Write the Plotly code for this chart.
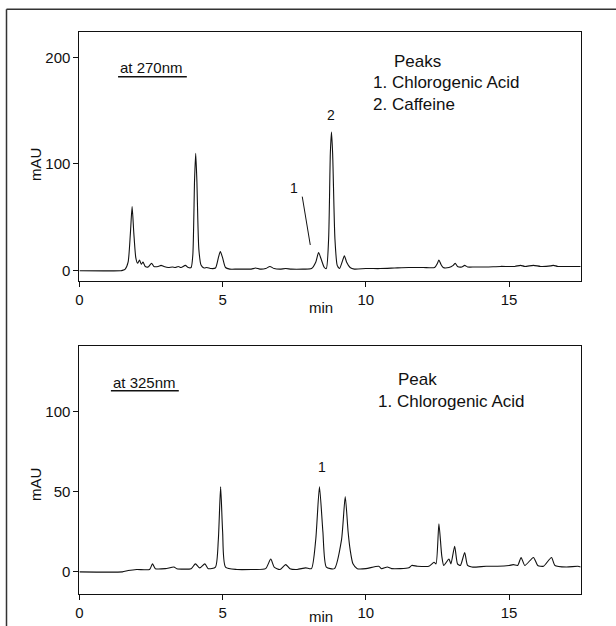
import plotly.graph_objects as go

# ---------------- data ----------------
t_270 = [0, 1.45, 1.5, 1.6, 1.7, 1.78, 1.84, 1.9, 1.97, 2.03, 2.1, 2.16, 2.22, 2.3, 2.4, 2.52, 2.6,
         2.75, 2.85, 2.95, 3.1, 3.25, 3.35, 3.45, 3.55, 3.7, 3.8, 3.9, 3.96, 4.02, 4.06, 4.1, 4.17,
         4.25, 4.35, 4.45, 4.6, 4.75, 4.85, 4.92, 5.0, 5.1, 5.25, 5.5, 5.8, 6.0, 6.15, 6.3, 6.5,
         6.65, 6.8, 7.0, 7.2, 7.4, 7.8, 8.1, 8.25, 8.35, 8.45, 8.55, 8.62, 8.7, 8.76, 8.8, 8.84,
         8.92, 9.0, 9.08, 9.17, 9.25, 9.33, 9.45, 9.6, 10.0, 10.5, 11.0, 11.5, 12.0, 12.4, 12.5,
         12.55, 12.62, 12.7, 12.9, 13.05, 13.12, 13.2, 13.35, 13.45, 13.55, 13.8, 14.2, 14.7,
         15.2, 15.4, 15.55, 15.85, 16.1, 16.45, 16.55, 16.7, 17.0, 17.5]
mau_270 = [0, 0, 0.3, 1.5, 8, 35, 60, 35, 12, 7, 10, 6, 8, 4, 3.5, 7, 4,
           4, 5, 4, 3, 3.5, 3, 4, 3, 5, 3, 3, 15, 85, 110, 85, 20,
           5, 2.5, 3, 2, 2.5, 12, 18, 12, 3, 1.5, 1.5, 1.5, 1.5, 2.5, 1.5, 2,
           4, 2, 1.5, 2, 1.5, 1.5, 2, 8, 17, 10, 3, 2, 30, 110, 130, 110,
           30, 5, 2, 8, 14, 8, 3, 1.5, 2, 2, 2.5, 3, 3, 3, 7,
           10, 6, 3, 3, 5, 7, 4, 3.5, 5, 3.5, 3.5, 3.5, 4,
           4, 5, 4, 5, 4, 4.5, 5, 4, 4, 4]

t_325 = [0, 1.5, 1.7, 2.0, 2.45, 2.55, 2.65, 3.0, 3.3, 3.4, 3.9, 4.05, 4.2, 4.38, 4.5, 4.75, 4.85,
         4.93, 5.0, 5.1, 5.5, 6.0, 6.5, 6.68, 6.8, 7.0, 7.2, 7.35, 7.6, 7.9, 8.1, 8.25, 8.38,
         8.5, 8.62, 8.9, 9.15, 9.28, 9.38, 9.45, 9.55, 9.7, 10.0, 10.45, 10.55, 10.75, 10.9,
         11.5, 11.6, 11.8, 12.2, 12.38, 12.45, 12.55, 12.65, 12.72, 12.9, 12.97, 13.1, 13.2,
         13.3, 13.45, 13.55, 13.7, 14.2, 14.6, 15.0, 15.15, 15.3, 15.42, 15.55, 15.85, 16.0,
         16.2, 16.48, 16.6, 17.0, 17.4, 17.5]
mau_325 = [0, 0, 0.8, 1.5, 1.5, 5, 2, 2, 3, 2, 2, 5, 2.5, 5, 2, 3, 20,
           53, 25, 3, 1.5, 1.5, 2, 8, 3, 1.5, 4.5, 2, 1.5, 2.5, 2, 20, 53,
           25, 3, 2, 20, 47, 25, 14, 5, 2, 2, 3.5, 2, 3, 2,
           2.5, 4, 3.5, 3.5, 6, 5, 30, 10, 4, 8, 5, 16, 5,
           4, 12, 4, 3, 3.5, 3.5, 4, 4.5, 4, 9, 4, 9, 4,
           3.5, 9, 4, 3, 3.5, 3]

x_ticks = [0, 5, 10, 15]
y_ticks_270 = [0, 100, 200]
y_ticks_325 = [0, 50, 100]

W, H = 616, 626
FONT = "Liberation Sans, Arial, sans-serif"


def px(x):
    return x / W


def py(y):
    return 1 - y / H


fig = go.Figure()
fig.add_trace(go.Scatter(x=t_270, y=mau_270, mode="lines", xaxis="x", yaxis="y",
                         line=dict(color="#111111", width=1.1, shape="spline", smoothing=0.6),
                         showlegend=False, hoverinfo="skip"))
fig.add_trace(go.Scatter(x=t_325, y=mau_325, mode="lines", xaxis="x2", yaxis="y2",
                         line=dict(color="#111111", width=1.1, shape="spline", smoothing=0.6),
                         showlegend=False, hoverinfo="skip"))

xdom = [px(79.4), px(580.7)]
axis_common = dict(showline=True, mirror=True, linecolor="#111111", linewidth=1,
                   ticks="outside", ticklen=5, tickcolor="#111111", showgrid=False,
                   zeroline=False, automargin=False,
                   tickfont=dict(family=FONT, size=15, color="#111111"))

fig.update_layout(
    width=W, height=H,
    margin=dict(l=0, r=0, t=0, b=0),
    paper_bgcolor="white", plot_bgcolor="white",
    showlegend=False,
    xaxis=dict(domain=xdom, range=[0, 17.5], tickvals=x_ticks, anchor="y", **axis_common),
    yaxis=dict(domain=[py(281), py(32.3)], range=[-9.65, 223.4], tickvals=y_ticks_270,
               anchor="x", **axis_common),
    xaxis2=dict(domain=xdom, range=[0, 17.5], tickvals=x_ticks, anchor="y2", **axis_common),
    yaxis2=dict(domain=[py(593.5), py(345.7)], range=[-13.5, 141.1], tickvals=y_ticks_325,
                anchor="x2", **axis_common),
)

txt = dict(family=FONT, color="#111111")
C = dict(showarrow=False, xanchor="center", yanchor="middle")
L = dict(showarrow=False, xanchor="left", yanchor="middle")
ann = []
# axis titles
for yy in (165, 485):
    ann.append(dict(x=px(35), y=py(yy), xref="paper", yref="paper", text="mAU",
                    textangle=-90, font=dict(size=15, **txt), **C))
for yy in (307, 616):
    ann.append(dict(x=px(321), y=py(yy), xref="paper", yref="paper", text="min",
                    font=dict(size=15, **txt), **C))

# top panel labels
ann += [
    dict(x=1.35, y=190, xref="x", yref="y", text="at 270nm", font=dict(size=15, **txt), **L),
    dict(x=11.81, y=195.9, xref="x", yref="y", text="Peaks", font=dict(size=17, **txt), **C),
    dict(x=10.17, y=175.9, xref="x", yref="y", text="1. Chlorogenic Acid",
         font=dict(size=17, **txt), **L),
    dict(x=10.17, y=155.3, xref="x", yref="y", text="2. Caffeine",
         font=dict(size=17, **txt), **L),
    dict(x=8.78, y=146, xref="x", yref="y", text="2", font=dict(size=14, **txt), **C),
    dict(x=7.48, y=77.8, xref="x", yref="y", text="1", font=dict(size=14, **txt), **C),
    # bottom panel labels
    dict(x=1.1, y=118, xref="x2", yref="y2", text="at 325nm", font=dict(size=15, **txt), **L),
    dict(x=11.81, y=120.3, xref="x2", yref="y2", text="Peak", font=dict(size=17, **txt), **C),
    dict(x=10.34, y=106.6, xref="x2", yref="y2", text="1. Chlorogenic Acid",
         font=dict(size=17, **txt), **L),
    dict(x=8.46, y=65.6, xref="x2", yref="y2", text="1", font=dict(size=14, **txt), **C),
]
fig.update_layout(annotations=ann)

shapes = [
    # underlines
    dict(type="line", xref="x", yref="y", x0=1.35, x1=3.75, y0=181.8, y1=181.8,
         line=dict(color="#111111", width=1.5)),
    dict(type="line", xref="x2", yref="y2", x0=1.1, x1=3.47, y0=113, y1=113,
         line=dict(color="#111111", width=1.5)),
    # leader line for peak 1 at 270 nm
    dict(type="line", xref="x", yref="y", x0=7.78, x1=8.06, y0=69.4, y1=24.1,
         line=dict(color="#111111", width=1)),
    # page frame (top and left edges)
    dict(type="line", xref="paper", yref="paper", x0=px(6.5), x1=1, y0=py(9.3), y1=py(9.3),
         line=dict(color="#333333", width=1.5)),
    dict(type="line", xref="paper", yref="paper", x0=px(6.5), x1=px(6.5), y0=py(9.3), y1=0,
         line=dict(color="#333333", width=1.5)),
]
fig.update_layout(shapes=shapes)

fig.write_html("out.html", config={"displayModeBar": False},
               post_script="document.body.style.margin='0';document.body.style.overflow='hidden';")
